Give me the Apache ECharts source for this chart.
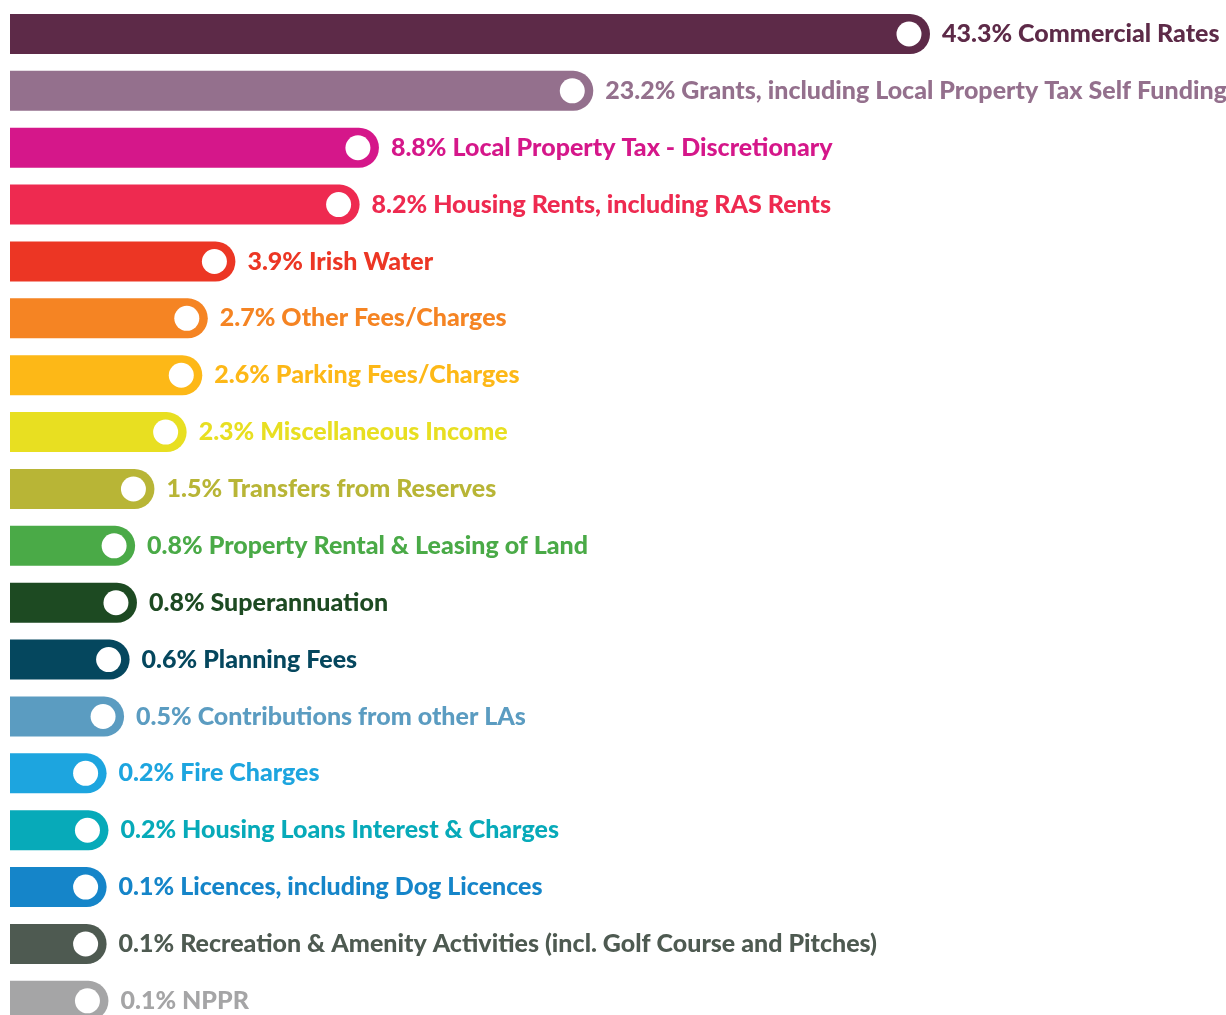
<!DOCTYPE html>
<html>
<head>
<meta charset="utf-8">
<script src="https://cdn.jsdelivr.net/npm/echarts@6/dist/echarts.min.js"></script>
<style>
html,body{margin:0;padding:0;background:#fff;overflow:hidden;}
#chart{width:1226px;height:1040px;}
</style>
</head>
<body>
<div id="chart"></div>
<script>
// Income sources (top to bottom)
const categories = [
  'Commercial Rates',
  'Grants, including Local Property Tax Self Funding',
  'Local Property Tax - Discretionary',
  'Housing Rents, including RAS Rents',
  'Irish Water',
  'Other Fees/Charges',
  'Parking Fees/Charges',
  'Miscellaneous Income',
  'Transfers from Reserves',
  'Property Rental & Leasing of Land',
  'Superannuation',
  'Planning Fees',
  'Contributions from other LAs',
  'Fire Charges',
  'Housing Loans Interest & Charges',
  'Licences, including Dog Licences',
  'Recreation & Amenity Activities (incl. Golf Course and Pitches)',
  'NPPR'
];
// Share of income, %
const shares = [43.3, 23.2, 8.8, 8.2, 3.9, 2.7, 2.6, 2.3, 1.5, 0.8, 0.8, 0.6, 0.5, 0.2, 0.2, 0.1, 0.1, 0.1];
// Drawn bar length (longest bar = 100; the graphic is not to scale)
const barLengths = [100, 63.4, 40.1, 38.0, 24.5, 21.5, 20.9, 19.2, 15.7, 13.6, 13.8, 13.0, 12.4, 10.5, 10.7, 10.5, 10.5, 10.7];
const colors = ['#5D2A48', '#94708D', '#D5178A', '#EE2A50', '#EC3624', '#F58423', '#FDB817', '#E8DF21', '#B8B536',
  '#4AAA47', '#1D4A22', '#05475E', '#5B9CC1', '#1DA5DF', '#07AAB9', '#1585C9', '#4E5A51', '#A5A5A6'];

const chart = echarts.init(document.getElementById('chart'));
const barData = barLengths.map((v, i) => ({
  value: v,
  itemStyle: { color: colors[i] },
  label: { color: colors[i] }
}));
chart.setOption({
  animation: false,
  backgroundColor: '#ffffff',
  grid: { left: 10, top: 5.56, width: 920, height: 1023.75, containLabel: false },
  xAxis: { type: 'value', min: 0, max: 100, show: false },
  yAxis: { type: 'category', data: categories, inverse: true, show: false },
  series: [
    {
      type: 'bar',
      data: barData,
      barWidth: 40,
      itemStyle: { borderRadius: [0, 20, 20, 0] },
      label: {
        show: true,
        position: 'right',
        distance: 12,
        fontFamily: 'Lato',
        fontWeight: 900,
        fontSize: 25,
        formatter: p => shares[p.dataIndex].toFixed(1) + '% ' + categories[p.dataIndex]
      },
      silent: true
    },
    {
      type: 'scatter',
      data: barLengths.map((v, i) => [v, categories[i]]),
      symbol: 'circle',
      symbolSize: 25,
      symbolOffset: [-21, 0],
      itemStyle: { color: '#ffffff', opacity: 1 },
      z: 5,
      silent: true
    }
  ]
});
</script>
</body>
</html>
